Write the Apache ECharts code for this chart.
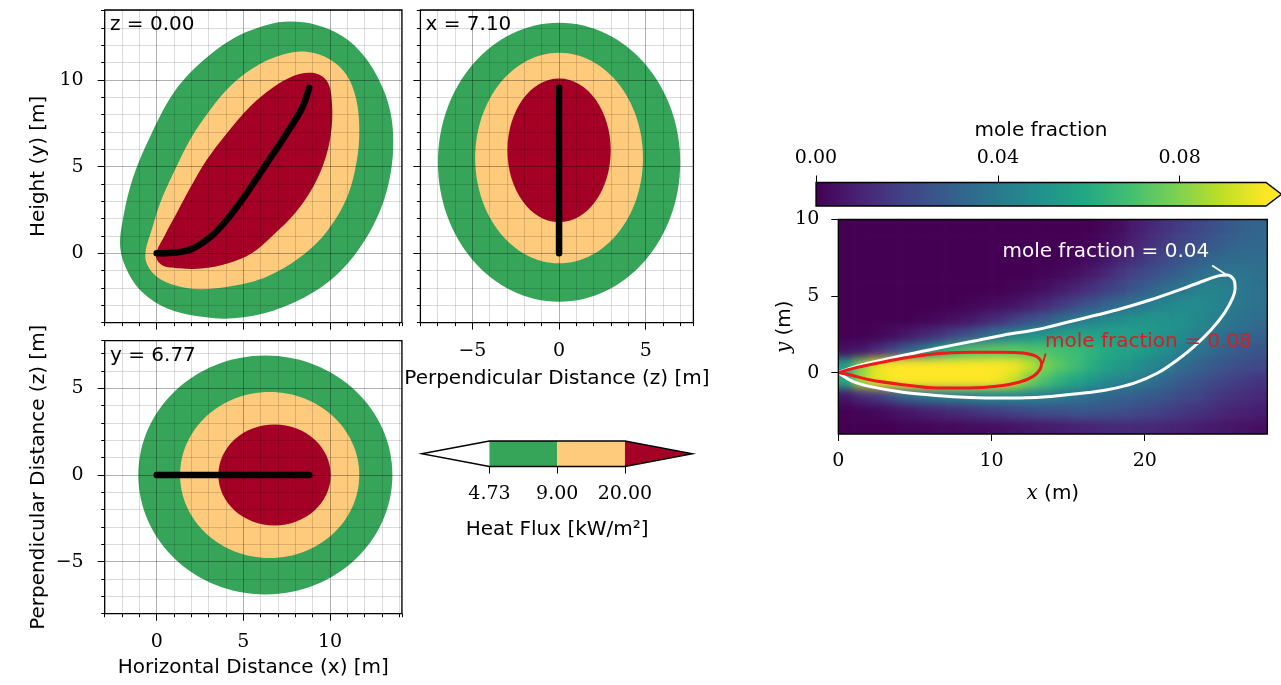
<!DOCTYPE html>
<html>
<head>
<meta charset="utf-8">
<title>Heat flux views and mole fraction plume</title>
<script src="https://cdn.jsdelivr.net/npm/echarts@6/dist/echarts.min.js"></script>
<style>
  * { margin: 0; padding: 0; }
  body { background: #fff; }
  #wrap { position: relative; width: 1281px; height: 685px; }
  #main { position: absolute; left: 0; top: 0; width: 1281px; height: 685px; z-index: 1; }
  /* plume field is drawn in its own chart and softened like a smooth-shaded image */
  #field { position: absolute; left: 838.3px; top: 219.5px; width: 429px; height: 214.5px; overflow: hidden; z-index: 0; }
  #fieldInner { position: absolute; left: -20px; top: -20px; width: 469px; height: 254.5px; filter: blur(5px); }
</style>
</head>
<body>
<div id="wrap">
  <div id="field"><div id="fieldInner"></div></div>
  <div id="main"></div>
</div>
<script>
// ---- heat flux views -------------------------------------------------
var sliceLabels = ['z = 0.00', 'x = 7.10', 'y = 6.77'];

// levels (kW/m2) and band colours: below, 4.73-9, 9-20, above
var heatLevels = [4.73, 9.00, 20.00];
var heatColors = ['#ffffff', '#36a459', '#fecb7c', '#a50026'];

// side view (x, y): outlines of the three bands, outer to inner
var sideGreen = [[-2.1,0.3],[-1.92,2.12],[-1.35,4.42],[-0.38,6.73],[0.96,9.23],[2.5,10.96],[4.42,12.4],[6.35,13.17],[7.69,13.37],[9.23,13.17],[10.77,12.5],[11.92,11.44],[12.88,9.9],[13.46,8.27],[13.65,6.54],[13.5,4.62],[12.98,2.69],[12.02,0.77],[10.67,-0.96],[8.94,-2.31],[6.73,-3.31],[4.42,-3.75],[2.5,-3.65],[0.58,-3.17],[-0.77,-2.31],[-1.63,-1.15]];
var sideOrange = [[-0.63,0.19],[-0.58,-0.58],[0,-1.35],[1.15,-1.88],[2.5,-2.08],[4.42,-1.88],[6.35,-1.35],[8.27,-0.23],[9.81,1.25],[10.96,3.17],[11.54,5.29],[11.69,7.21],[11.5,8.94],[10.96,10.29],[10.0,11.19],[8.65,11.63],[7.4,11.5],[5.96,10.92],[4.42,9.81],[3.08,8.27],[1.92,6.54],[0.96,4.62],[0.19,2.88],[-0.29,1.35]];
var sideRed = [[-0.04,-0.1],[0.29,-0.67],[1.35,-0.87],[2.69,-0.87],[4.13,-0.58],[5.48,0],[6.73,1.06],[7.98,2.31],[9.04,3.85],[9.77,5.58],[10.1,7.31],[10.1,8.85],[9.9,9.81],[9.42,10.29],[8.75,10.42],[7.88,10.23],[6.73,9.58],[5.38,8.46],[4.04,6.92],[2.88,5.38],[1.92,3.75],[1.15,2.31],[0.48,1.06]];
var sideShapes = [sideGreen, sideOrange, sideRed];
var sideFlame = [[0,0],[1.15,0.04],[2.12,0.29],[3.08,0.92],[4.04,1.92],[5.19,3.46],[6.35,5.19],[7.5,6.92],[8.4,8.4],[8.8,9.55]];

// front view (z, y) bands as ellipses [cz, cy, rz, ry]
var frontEllipses = [[0,5.26,6.99,8.05],[0,5.5,4.84,6.08],[0,5.94,2.98,4.15]];
var frontFlame = [[0,0],[0,9.55]];

// top view (x, z) bands as ellipses [cx, cz, rx, rz]
var topEllipses = [[6.27,0,7.33,6.89],[6.52,0,5.17,4.79],[6.8,0,3.24,2.91]];
var topFlame = [[0,0],[8.8,0]];

// ---- mole fraction plume ---------------------------------------------
var moleMax = 0.099;
var moleTicks = [0, 0.04, 0.08];
var moleX = [0.5,1.5,2.5,3.5,4.5,5.5,6.5,7.5,8.5,9.5,10.5,11.5,12.5,13.5,14.5,15.5,16.5,17.5,18.5,19.5,20.5,21.5,22.5,23.5,24.5,25.5,26.5,27.5];
var moleY = [9.5,8.5,7.5,6.5,5.5,4.5,3.5,2.5,1.5,0.5,-0.5,-1.5,-2.5,-3.5];
var moleRows = [
  [0,0,0,0,0,0,0,0,0,0,0,0,0,0,0,0,0,0.002,0.004,0.008,0.011,0.015,0.018,0.021,0.024,0.027,0.03,0.032],
  [0,0,0,0,0,0,0,0,0,0,0,0,0,0,0,0,0.001,0.003,0.006,0.01,0.014,0.018,0.021,0.024,0.027,0.03,0.032,0.033],
  [0,0,0,0,0,0,0,0,0,0,0,0,0,0,0,0.001,0.003,0.006,0.01,0.014,0.018,0.022,0.026,0.029,0.032,0.034,0.035,0.035],
  [0,0,0,0,0,0,0,0,0,0,0,0,0,0.001,0.002,0.004,0.007,0.011,0.016,0.02,0.024,0.028,0.031,0.035,0.038,0.039,0.038,0.036],
  [0,0,0,0,0,0,0,0,0,0,0,0.001,0.002,0.004,0.007,0.01,0.014,0.018,0.022,0.027,0.031,0.036,0.039,0.043,0.044,0.042,0.039,0.037],
  [0,0,0,0,0,0,0,0,0.001,0.002,0.003,0.005,0.008,0.011,0.016,0.021,0.026,0.031,0.035,0.038,0.042,0.045,0.047,0.047,0.045,0.042,0.039,0.037],
  [0,0,0,0,0,0.001,0.002,0.004,0.006,0.009,0.013,0.018,0.023,0.028,0.034,0.039,0.043,0.046,0.048,0.05,0.051,0.05,0.049,0.046,0.043,0.039,0.037,0.035],
  [0,0,0.001,0.003,0.006,0.01,0.014,0.019,0.025,0.032,0.039,0.045,0.05,0.052,0.055,0.057,0.057,0.056,0.056,0.055,0.053,0.05,0.047,0.043,0.039,0.035,0.033,0.031],
  [0.004,0.006,0.012,0.02,0.03,0.039,0.052,0.064,0.07,0.072,0.073,0.073,0.071,0.071,0.069,0.067,0.064,0.06,0.058,0.055,0.051,0.047,0.042,0.038,0.034,0.03,0.028,0.026],
  [0.055,0.08,0.095,0.1,0.11,0.11,0.11,0.11,0.11,0.108,0.103,0.097,0.09,0.079,0.073,0.068,0.062,0.057,0.053,0.049,0.045,0.041,0.035,0.031,0.028,0.025,0.023,0.021],
  [0.06,0.085,0.095,0.098,0.1,0.105,0.105,0.105,0.105,0.102,0.097,0.09,0.078,0.07,0.063,0.058,0.052,0.047,0.044,0.041,0.037,0.032,0.028,0.025,0.022,0.019,0.017,0.015],
  [0.006,0.012,0.016,0.024,0.033,0.038,0.04,0.043,0.045,0.046,0.046,0.046,0.045,0.043,0.04,0.037,0.035,0.033,0.031,0.029,0.027,0.025,0.022,0.02,0.017,0.015,0.013,0.011],
  [0,0.001,0.002,0.004,0.006,0.008,0.01,0.012,0.014,0.016,0.018,0.02,0.022,0.024,0.025,0.026,0.026,0.025,0.024,0.022,0.02,0.018,0.016,0.014,0.012,0.01,0.009,0.008],
  [0,0,0,0,0.001,0.001,0.002,0.002,0.003,0.003,0.004,0.005,0.006,0.007,0.008,0.009,0.01,0.011,0.011,0.011,0.011,0.01,0.009,0.008,0.007,0.006,0.005,0.004]
];

// contour lines and their labels
var contourLevels = [0.04, 0.08];
var contour04 = [[0,0],[0.9,0.33],[2.03,0.63],[4.2,1.13],[6.39,1.58],[8.6,2.02],[10.76,2.45],[12.9,2.8],[13.85,3.02],[16.03,3.56],[18.22,4.11],[20.4,4.76],[22.58,5.52],[24.0,6.05],[24.8,6.32],[25.4,6.38],[25.8,6.1],[25.9,5.5],[25.75,4.9],[25.2,3.89],[24.33,2.8],[23.23,1.72],[22.15,0.85],[20.84,-0.02],[19.31,-0.68],[17.57,-1.11],[16.03,-1.33],[13.85,-1.55],[12.94,-1.61],[10.76,-1.65],[8.57,-1.61],[6.39,-1.48],[4.21,-1.27],[2.03,-0.89],[0.94,-0.57],[0,0]];
var contour08 = [[0,0],[0.72,0.22],[2.03,0.52],[4.21,0.95],[6.39,1.24],[8.57,1.33],[10.76,1.34],[12.07,1.28],[12.94,1.06],[13.27,0.63],[13.16,0.2],[12.72,-0.24],[11.85,-0.61],[10.32,-0.89],[8.57,-1.0],[6.39,-1.0],[4.21,-0.78],[2.03,-0.46],[0.72,-0.13],[0,0]];
var labelAt = [[17.46, 7.89], [20.24, 2.0]];
var labelColors = ['#ffffff', '#d42024'];
var leader04 = [[24.4, 7.0], [25.4, 6.35]];
var leader08 = [[13.53, 1.26], [13.35, 0.61]];

var viridis = ['#440154','#482475','#414487','#355f8d','#2a788e','#21918c','#22a884','#44bf70','#7ad151','#bddf26','#fde725'];

var moleCells = [];
moleRows.forEach(function (row, j) {
  row.forEach(function (v, i) { moleCells.push([moleX[i], moleY[j], v]); });
});

var sans = 'DejaVu Sans', serif = 'DejaVu Serif';
function tickText(v) { return v < 0 ? '\u2212' + (-v) : String(v); }
var nameStyle = { fontFamily: sans, fontSize: 20, color: '#000' };
var noLine = { show: false, onZero: false };

// fine axis: 1 m grid lines and short ticks
function fineAxis(gi, min, max) {
  return {
    type: 'value', gridIndex: gi, min: min, max: max, interval: 1, z: 3,
    axisLine: noLine,
    axisTick: { show: true, length: 3.5, lineStyle: { color: '#000', width: 1 } },
    axisLabel: { show: false },
    splitLine: { show: true, lineStyle: { color: 'rgba(0,0,0,0.14)', width: 1 } }
  };
}
// major axis: long ticks and labels every 5 m
function majorAxis(gi, min, max, ticks, showLabels, margin, name, gap) {
  return {
    type: 'value', gridIndex: gi, min: min, max: max, interval: 1,
    axisLine: noLine,
    axisTick: { show: true, length: 7, customValues: ticks, lineStyle: { color: '#000', width: 1 } },
    axisLabel: { show: showLabels, customValues: ticks, formatter: tickText, margin: margin,
      fontFamily: serif, fontSize: 19, color: '#000' },
    splitLine: { show: false },
    name: name || '', nameLocation: 'middle', nameGap: gap || 0, nameMoveOverlap: false,
    nameTextStyle: nameStyle
  };
}
function hiddenAxis(gi, min, max) {
  return { type: 'value', gridIndex: gi, min: min, max: max, show: false, axisLine: noLine };
}
function majorLines(xs, ys) {
  return {
    silent: true, symbol: ['none', 'none'], animation: false,
    label: { show: false },
    lineStyle: { color: 'rgba(0,0,0,0.2)', width: 1, type: 'solid' },
    emphasis: { disabled: true },
    data: xs.map(function (v) { return { xAxis: v }; }).concat(ys.map(function (v) { return { yAxis: v }; }))
  };
}
function ellipseItem(params, api) {
  var c = api.coord([api.value(0), api.value(1)]);
  var s = api.size([api.value(2), api.value(3)]);
  return { type: 'ellipse', shape: { cx: c[0], cy: c[1], rx: s[0], ry: s[1] },
    style: { fill: heatColors[params.dataIndex + 1] } };
}
function flameSeries(gi, data, smooth, xs, ys) {
  return {
    type: 'line', xAxisIndex: gi, yAxisIndex: gi, data: data, smooth: smooth, z: 4,
    symbol: 'none', silent: true,
    lineStyle: { color: '#000', width: 6.5, cap: 'round', join: 'round' },
    markLine: majorLines(xs, ys)
  };
}

var frame = { show: true, borderColor: '#000', borderWidth: 1.3, backgroundColor: 'transparent', z: 10, outerBoundsMode: 'none' };
function g(l, t, w, h, show) {
  return Object.assign({}, show ? frame : { show: false, outerBoundsMode: 'none' }, { left: l, top: t, width: w, height: h });
}

// ---- plume field chart (underneath the main chart) ----
var field = echarts.init(document.getElementById('fieldInner'));
field.setOption({
  animation: false,
  grid: { left: 20, top: 20, width: 429, height: 214.5, show: false, outerBoundsMode: 'none' },
  xAxis: hiddenAxis(0, 0, 28),
  yAxis: hiddenAxis(0, -4, 10),
  visualMap: { type: 'continuous', show: false, min: 0, max: moleMax, dimension: 2, seriesIndex: 0,
    inRange: { color: viridis } },
  series: [{
    type: 'custom', data: moleCells, silent: true, encode: { x: 0, y: 1 },
    renderItem: function (params, api) {
      var x = api.value(0), y = api.value(1);
      var p0 = api.coord([x - 0.5, y + 0.5]);
      var p1 = api.coord([x + 0.5, y - 0.5]);
      // edge cells are stretched past the frame so the softening has no light rim
      var pad = 22;
      var x0 = x === moleX[0] ? p0[0] - pad : p0[0];
      var x1 = x === moleX[moleX.length - 1] ? p1[0] + pad : p1[0] + 0.6;
      var y0 = y === moleY[0] ? p0[1] - pad : p0[1];
      var y1 = y === moleY[moleY.length - 1] ? p1[1] + pad : p1[1] + 0.6;
      return { type: 'rect', shape: { x: x0, y: y0, width: x1 - x0, height: y1 - y0 },
        style: { fill: api.visual('color') } };
    }
  }]
});

// ---- main chart ----
var chart = echarts.init(document.getElementById('main'));
var option = {
  animation: false,
  grid: [
    g(104.7, 10, 297.2, 312.6, true),   // 0 side view
    g(420.4, 10, 273, 312.6, true),     // 1 front view
    g(104.7, 340.7, 297.2, 273, true),  // 2 top view
    g(838.3, 219.5, 429, 214.5, true),  // 3 plume
    g(421.7, 441, 271, 25.5, false),    // 4 heat flux colour bar
    g(816, 182.5, 450, 23.5, false),    // 5 mole fraction colour bar
    g(104.7, 10, 297.2, 312.6, false),  // 6 overlays for major ticks
    g(420.4, 10, 273, 312.6, false),
    g(104.7, 340.7, 297.2, 273, false)
  ],
  xAxis: [
    fineAxis(0, -3, 14.15),
    fineAxis(1, -8, 7.75),
    fineAxis(2, -3, 14.15),
    {
      type: 'value', gridIndex: 3, min: 0, max: 28, interval: 10,
      axisLine: noLine, splitLine: { show: false },
      axisTick: { length: 7, customValues: [0, 10, 20], lineStyle: { color: '#000' } },
      axisLabel: { customValues: [0, 10, 20], margin: 18, fontFamily: serif, fontSize: 19, color: '#000' },
      name: '{i|x} (m)', nameLocation: 'middle', nameGap: 50, nameMoveOverlap: false,
      nameTextStyle: Object.assign({}, nameStyle, { rich: { i: { fontFamily: serif, fontStyle: 'italic', fontSize: 20 } } })
    },
    {
      type: 'value', gridIndex: 4, min: -1, max: 3, interval: 1,
      axisLine: noLine, splitLine: { show: false },
      axisTick: { length: 7, customValues: [0, 1, 2], lineStyle: { color: '#000' } },
      axisLabel: { customValues: [0, 1, 2], margin: 18, fontFamily: serif, fontSize: 19, color: '#000',
        formatter: function (v) { return heatLevels[v].toFixed(2); } },
      name: 'Heat Flux [kW/m\u00b2]', nameLocation: 'middle', nameGap: 53, nameMoveOverlap: false,
      nameTextStyle: nameStyle
    },
    {
      type: 'value', gridIndex: 5, position: 'top', min: 0, max: moleMax,
      axisLine: noLine, splitLine: { show: false },
      axisTick: { length: 7, customValues: moleTicks, lineStyle: { color: '#000' } },
      axisLabel: { customValues: moleTicks, margin: 15, fontFamily: serif, fontSize: 19, color: '#000',
        formatter: function (v) { return v.toFixed(2); } },
      name: 'mole fraction', nameLocation: 'middle', nameGap: 42, nameMoveOverlap: false,
      nameTextStyle: nameStyle
    },
    majorAxis(6, -3, 14.15, [0, 5, 10], false, 19),
    majorAxis(7, -8, 7.75, [-5, 0, 5], true, 19, 'Perpendicular Distance (z) [m]', 46),
    majorAxis(8, -3, 14.15, [0, 5, 10], true, 19, 'Horizontal Distance (x) [m]', 44)
  ],
  yAxis: [
    fineAxis(0, -4, 14.04),
    fineAxis(1, -4, 14.04),
    fineAxis(2, -8, 7.75),
    {
      type: 'value', gridIndex: 3, min: -4, max: 10, interval: 1,
      axisLine: noLine, splitLine: { show: false },
      axisTick: { length: 7, customValues: [0, 5, 10], lineStyle: { color: '#000' } },
      axisLabel: { customValues: [0, 5, 10], margin: 19, fontFamily: serif, fontSize: 19, color: '#000' },
      name: '{i|y} (m)', nameLocation: 'middle', nameGap: 44, nameMoveOverlap: false,
      nameTextStyle: Object.assign({}, nameStyle, { rich: { i: { fontFamily: serif, fontStyle: 'italic', fontSize: 20 } } })
    },
    hiddenAxis(4, 0, 1),
    hiddenAxis(5, 0, 1),
    majorAxis(6, -4, 14.04, [0, 5, 10], true, 21, 'Height (y) [m]', 56),
    majorAxis(7, -4, 14.04, [0, 5, 10], false, 21),
    majorAxis(8, -8, 7.75, [-5, 0, 5], true, 21, 'Perpendicular Distance (z) [m]', 56)
  ],
  graphic: [
    { type: 'text', x: 110, y: 15, z: 20, style: { text: sliceLabels[0], font: '20px "DejaVu Sans"', fill: '#000', verticalAlign: 'top' } },
    { type: 'text', x: 425.5, y: 15, z: 20, style: { text: sliceLabels[1], font: '20px "DejaVu Sans"', fill: '#000', verticalAlign: 'top' } },
    { type: 'text', x: 110, y: 346, z: 20, style: { text: sliceLabels[2], font: '20px "DejaVu Sans"', fill: '#000', verticalAlign: 'top' } }
  ],
  series: [
    { type: 'line', xAxisIndex: 3, yAxisIndex: 3, data: contour04, smooth: 0.3, symbol: 'none', silent: true, z: 5,
      lineStyle: { color: '#ffffff', width: 3 } },
    { type: 'line', xAxisIndex: 3, yAxisIndex: 3, data: contour08, smooth: 0.3, symbol: 'none', silent: true, z: 5,
      lineStyle: { color: '#f01a1a', width: 3 } },
    { type: 'line', xAxisIndex: 3, yAxisIndex: 3, data: leader04, symbol: 'none', silent: true, z: 5,
      lineStyle: { color: '#ffffff', width: 1.8 } },
    { type: 'line', xAxisIndex: 3, yAxisIndex: 3, data: leader08, symbol: 'none', silent: true, z: 5,
      lineStyle: { color: '#e01c1c', width: 1.8 } },
    // contour labels
    {
      type: 'custom', xAxisIndex: 3, yAxisIndex: 3, silent: true, z: 6,
      data: labelAt.map(function (p, i) { return [p[0], p[1], i]; }),
      renderItem: function (params, api) {
        var i = api.value(2);
        var p = api.coord([api.value(0), api.value(1)]);
        return { type: 'text', x: p[0], y: p[1],
          style: { text: 'mole fraction = ' + contourLevels[i].toFixed(2), fill: labelColors[i],
            font: '20px "DejaVu Sans"', align: 'center', verticalAlign: 'middle' } };
      }
    },
    // side view
    {
      type: 'custom', xAxisIndex: 0, yAxisIndex: 0, silent: true,
      data: sideShapes.map(function (s, i) { return [s[0][0], s[0][1], i]; }),
      renderItem: function (params, api) {
        var pts = sideShapes[api.value(2)].map(function (p) { return api.coord(p); });
        return { type: 'polygon', shape: { points: pts, smooth: 0.35 }, style: { fill: heatColors[api.value(2) + 1] } };
      }
    },
    flameSeries(0, sideFlame, 0.3, [0, 5, 10], [0, 5, 10]),
    // front view
    { type: 'custom', xAxisIndex: 1, yAxisIndex: 1, silent: true, data: frontEllipses, renderItem: ellipseItem },
    flameSeries(1, frontFlame, false, [-5, 0, 5], [0, 5, 10]),
    // top view
    { type: 'custom', xAxisIndex: 2, yAxisIndex: 2, silent: true, data: topEllipses, renderItem: ellipseItem },
    flameSeries(2, topFlame, false, [0, 5, 10], [-5, 0, 5]),
    // heat flux colour bar
    {
      type: 'custom', xAxisIndex: 4, yAxisIndex: 4, silent: true, data: [[0, 0]],
      renderItem: function (params, api) {
        var top = api.coord([0, 1])[1], bot = api.coord([0, 0])[1], mid = (top + bot) / 2;
        var xs = [-1, 0, 1, 2, 3].map(function (v) { return api.coord([v, 0])[0]; });
        return { type: 'group', children: [
          { type: 'polygon', shape: { points: [[xs[0], mid], [xs[1], top], [xs[1], bot]] }, style: { fill: heatColors[0] } },
          { type: 'rect', shape: { x: xs[1], y: top, width: xs[2] - xs[1], height: bot - top }, style: { fill: heatColors[1] } },
          { type: 'rect', shape: { x: xs[2], y: top, width: xs[3] - xs[2], height: bot - top }, style: { fill: heatColors[2] } },
          { type: 'polygon', shape: { points: [[xs[3], top], [xs[4], mid], [xs[3], bot]] }, style: { fill: heatColors[3] } },
          { type: 'polygon', shape: { points: [[xs[0], mid], [xs[1], top], [xs[3], top], [xs[4], mid], [xs[3], bot], [xs[1], bot]] },
            style: { fill: 'none', stroke: '#000', lineWidth: 1.3 } }
        ] };
      }
    },
    // mole fraction colour bar
    {
      type: 'custom', xAxisIndex: 5, yAxisIndex: 5, silent: true, data: [[0, 0]],
      renderItem: function (params, api) {
        var a = api.coord([0, 1]), b = api.coord([moleMax, 0]);
        var mid = (a[1] + b[1]) / 2, tip = b[0] + 15.5;
        var stops = viridis.map(function (c, i) { return { offset: i / (viridis.length - 1), color: c }; });
        return { type: 'group', children: [
          { type: 'rect', shape: { x: a[0], y: a[1], width: b[0] - a[0], height: b[1] - a[1] },
            style: { fill: new echarts.graphic.LinearGradient(0, 0, 1, 0, stops) } },
          { type: 'polygon', shape: { points: [[b[0], a[1]], [tip, mid], [b[0], b[1]]] }, style: { fill: viridis[viridis.length - 1] } },
          { type: 'polygon', shape: { points: [[a[0], a[1]], [b[0], a[1]], [tip, mid], [b[0], b[1]], [a[0], b[1]]] },
            style: { fill: 'none', stroke: '#000', lineWidth: 1.3 } }
        ] };
      }
    }
  ]
};
chart.setOption(option);
</script>
</body>
</html>
